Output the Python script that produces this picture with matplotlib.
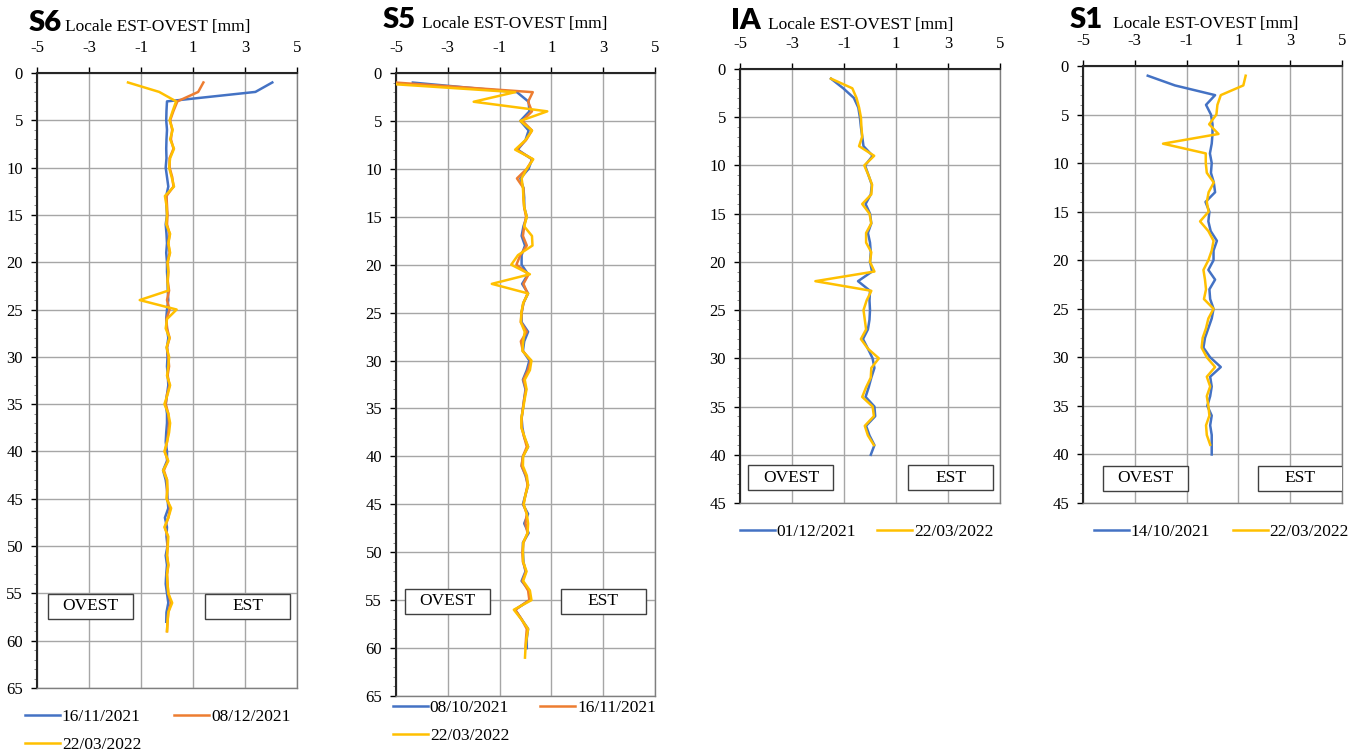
import matplotlib
matplotlib.use('Agg')
import matplotlib.pyplot as plt
from matplotlib.patches import Rectangle
from matplotlib.ticker import MultipleLocator

plt.rcParams['axes.unicode_minus'] = False

# ── Dati (spostamenti locali EST-OVEST in mm, per profondità in m) ──────
S6_DATES = ["16/11/2021", "08/12/2021", "22/03/2022"]
S6_BLUE = [4.05, 3.4, 0.0, -0.02, -0.03, 0.0, -0.02, -0.03, -0.02, -0.05,
           0.0, 0.05, -0.03, -0.02, 0.0, -0.05, -0.02, 0.0, -0.03, 0.0,
           0.0, 0.02, 0.03, 0.05, 0.0, -0.03, 0.0, 0.05, 0.0, 0.02,
           0.0, 0.03, 0.05, 0.0, -0.05, 0.0, 0.0, -0.03, -0.05, 0.0,
           0.0, -0.15, -0.05, 0.0, 0.02, 0.05, -0.08, 0.0, -0.02, 0.02,
           -0.05, 0.0, -0.03, -0.05, 0.0, 0.05, -0.02, -0.03]
S6_ORANGE = [1.4, 1.2, 0.4, 0.25, 0.12, 0.2, 0.15, 0.25, 0.1, 0.1,
             0.2, 0.25, -0.02, 0.0, 0.02, 0.0, 0.1, 0.05, 0.1, 0.03,
             0.05, 0.03, 0.08, 0.0, 0.1, -0.02, 0.0, 0.1, 0.0, 0.05,
             0.08, 0.02, 0.1, 0.0, -0.05, 0.05, 0.08, 0.05, 0.0, -0.08,
             0.03, -0.12, 0.0, 0.0, 0.0, 0.12, 0.05, -0.08, 0.03, 0.02,
             0.0, 0.05, 0.0, 0.02, 0.05, 0.15, 0.05, 0.02, 0.0]
S6_YELLOW = [-1.5, -0.3, 0.35, 0.22, 0.1, 0.22, 0.12, 0.27, 0.12, 0.08,
             0.18, 0.27, -0.08, -0.02, 0.0, -0.03, 0.12, 0.05, 0.12, 0.02,
             0.05, 0.02, 0.05, -1.05, 0.37, 0.0, -0.05, 0.1, -0.02, 0.08,
             0.05, 0.0, 0.12, 0.02, -0.1, 0.05, 0.12, 0.08, 0.0, -0.1,
             0.05, -0.15, 0.0, 0.02, -0.02, 0.16, 0.05, -0.1, 0.05, 0.03,
             0.0, 0.05, 0.0, 0.02, 0.05, 0.2, 0.05, 0.02, 0.0]

S5_DATES = ["08/10/2021", "16/11/2021", "22/03/2022"]
S5_BLUE = [-4.35, -0.33, 0.12, 0.15, -0.2, 0.12, 0.0, -0.3, 0.25, 0.12,
           -0.2, -0.08, -0.05, -0.05, 0.05, -0.08, -0.15, -0.02, -0.15, -0.15,
           0.1, -0.13, 0.1, -0.08, -0.15, -0.15, 0.1, -0.05, -0.1, 0.15,
           0.05, -0.1, 0.0, -0.05, -0.1, -0.15, -0.12, -0.05, 0.1, -0.1,
           -0.15, 0.0, 0.1, 0.0, -0.1, 0.1, -0.05, 0.12, -0.1, -0.1,
           -0.08, 0.0, -0.15, 0.15, 0.15, -0.4, -0.15, 0.1, 0.05, 0.05]
S5_ORANGE = [-5.0, 0.28, 0.1, 0.25, -0.12, 0.25, 0.02, -0.35, 0.28, 0.05,
             -0.33, -0.08, -0.08, -0.05, 0.02, -0.05, -0.1, 0.05, -0.2, -0.35,
             0.12, -0.08, 0.08, -0.08, -0.15, -0.18, 0.05, -0.18, -0.1, 0.2,
             0.1, -0.08, 0.02, -0.05, -0.1, -0.15, -0.15, -0.05, 0.05, -0.1,
             -0.15, 0.02, 0.08, 0.0, -0.08, 0.05, 0.0, 0.08, -0.08, -0.12,
             -0.1, 0.02, -0.12, 0.1, 0.15, -0.4, -0.15, 0.05, 0.02, 0.0]
S5_YELLOW = [-6.0, -0.4, -2.0, 0.84, -0.2, 0.25, 0.0, -0.4, 0.3, 0.05,
             -0.15, -0.1, -0.08, -0.05, 0.05, -0.05, 0.25, 0.27, -0.29, -0.55,
             0.17, -1.3, 0.1, -0.09, -0.16, -0.18, -0.03, -0.09, -0.12, 0.23,
             0.17, -0.03, 0.04, -0.03, -0.09, -0.16, -0.16, -0.03, 0.1, -0.09,
             -0.1, 0.05, 0.1, 0.0, -0.07, 0.05, 0.1, 0.08, -0.09, -0.1,
             -0.09, 0.04, -0.09, 0.17, 0.23, -0.45, -0.16, 0.1, 0.04, 0.0, -0.02]

IA_DATES = ["01/12/2021", "22/03/2022"]
IA_BLUE = [-1.5, -1.03, -0.62, -0.45, -0.39, -0.35, -0.3, -0.25, 0.1, -0.19,
           -0.06, 0.07, 0.03, -0.17, 0.0, 0.05, -0.08, 0.0, 0.03, 0.0,
           0.08, -0.46, 0.0, -0.02, 0.0, -0.02, -0.08, -0.27, -0.08, 0.1,
           0.17, 0.05, -0.05, -0.17, 0.17, 0.2, -0.15, -0.02, 0.17, 0.03]
IA_YELLOW = [-1.5, -0.68, -0.52, -0.42, -0.35, -0.33, -0.3, -0.42, 0.16, -0.22,
             -0.06, 0.08, 0.05, -0.3, -0.02, 0.05, -0.15, -0.15, 0.05, 0.0,
             0.17, -2.1, 0.05, -0.13, -0.25, -0.2, -0.15, -0.35, -0.08, 0.34,
             0.05, 0.03, -0.15, -0.3, 0.1, 0.15, -0.2, -0.08, 0.15]

S1_DATES = ["14/10/2021", "22/03/2022"]
S1_BLUE = [-2.5, -1.45, 0.1, -0.25, -0.06, 0.0, 0.0, -0.03, -0.1, -0.03,
           -0.06, 0.05, 0.1, -0.27, -0.12, -0.16, -0.07, 0.17, 0.04, 0.04,
           -0.16, 0.1, -0.12, -0.09, 0.04, -0.03, -0.16, -0.29, -0.35, -0.09,
           0.32, -0.09, -0.03, -0.09, -0.2, -0.03, -0.09, -0.03, -0.03, -0.03]
S1_YELLOW = [1.28, 1.19, 0.32, 0.19, 0.15, -0.13, 0.23, -1.91, -0.26, -0.26,
             -0.22, 0.05, -0.15, -0.22, -0.15, -0.48, -0.16, 0.04, -0.03, -0.16,
             -0.35, -0.29, -0.25, -0.33, 0.04, -0.16, -0.25, -0.38, -0.42, -0.22,
             0.1, -0.22, -0.09, -0.22, -0.16, -0.12, -0.25, -0.22, -0.09]

BLUE, ORANGE, YELLOW = '#4472C4', '#ED7D31', '#FFC000'
SERIF = 'Liberation Serif'
W, H = 1364, 752


def depths(values):
    return list(range(1, len(values) + 1))


def px_box(x0, y0, x1, y1):
    """Rettangolo in pixel (dall'alto) -> [left, bottom, width, height] in figura."""
    return [x0 / W, 1 - y1 / H, (x1 - x0) / W, (y1 - y0) / H]


def draw_panel(fig, rect, tag, series, ymax, title_px, box_y, ovest_x, est_x,
               leg_px, leg_cols_gap):
    ax = fig.add_axes(px_box(*rect))
    lines = []
    for vals, color, label in series:
        ln, = ax.plot(vals, depths(vals), color=color, lw=1.8, label=label,
                      solid_joinstyle='round', zorder=3)
        lines.append(ln)

    ax.set_xlim(-5, 5)
    ax.set_ylim(ymax, 0)
    ax.set_xticks([-5, -3, -1, 1, 3, 5])
    ax.yaxis.set_major_locator(MultipleLocator(5))
    ax.yaxis.set_minor_locator(MultipleLocator(1))
    ax.xaxis.tick_top()
    ax.tick_params(axis='x', which='major', top=True, bottom=False, direction='out',
                   length=4, width=1, pad=8, labelsize=12, labelfontfamily=SERIF)
    ax.tick_params(axis='y', which='major', left=True, direction='out',
                   length=4, width=1, pad=6, labelsize=12, labelfontfamily=SERIF)
    ax.tick_params(axis='y', which='minor', left=True, direction='out',
                   length=2.5, width=0.6, color='#777777')
    ax.grid(True, which='major', color='#A6A6A6', lw=1.0, zorder=0)
    ax.set_axisbelow(True)
    for s in ('top', 'left'):
        ax.spines[s].set_color('#262626')
        ax.spines[s].set_linewidth(1.5)
    for s in ('right', 'bottom'):
        ax.spines[s].set_color('#7F7F7F')
        ax.spines[s].set_linewidth(1.0)

    # box OVEST / EST, larghezza fissa (85 x 25 px)
    aw = rect[2] - rect[0]
    ah = rect[3] - rect[1]
    bw, bh = 85 / aw, 25 / ah
    for text, xc in (("OVEST", ovest_x), ("EST", est_x)):
        ax.add_patch(Rectangle((xc - bw / 2, box_y - bh / 2), bw, bh,
                               transform=ax.transAxes, fc='white', ec='#404040',
                               lw=1.0, zorder=5))
        ax.text(xc, box_y, text, transform=ax.transAxes, ha='center', va='center',
                family=SERIF, fontsize=12.5, zorder=6)

    # titolo
    tx, ty, lx = title_px
    fig.text(tx / W, 1 - ty / H, tag, family='Lato', weight='heavy', fontsize=21,
             ha='left', va='baseline')
    fig.text(lx / W, 1 - ty / H, "Locale EST-OVEST [mm]", family=SERIF,
             fontsize=12.5, ha='left', va='baseline')

    # legenda riempita per righe (matplotlib la riempie per colonne)
    if len(lines) == 3:
        lines = [lines[0], lines[2], lines[1]]
    ax.legend(handles=lines, loc='upper left',
              bbox_to_anchor=(leg_px[0] / W, 1 - leg_px[1] / H),
              bbox_transform=fig.transFigure, ncol=2, frameon=False, borderpad=0,
              borderaxespad=0, handlelength=2.0, handletextpad=0.12,
              columnspacing=leg_cols_gap, labelspacing=0.68,
              prop={'family': SERIF, 'size': 12.5})
    return ax


fig = plt.figure(figsize=(W / 100, H / 100), dpi=100, facecolor='white')

draw_panel(fig, (37, 73, 297, 688), "S6",
           [(S6_BLUE, BLUE, S6_DATES[0]), (S6_ORANGE, ORANGE, S6_DATES[1]),
            (S6_YELLOW, YELLOW, S6_DATES[2])],
           65, (29, 31, 65), 0.133, 0.204, 0.81, (25, 709), 1.9)

draw_panel(fig, (396, 73, 655, 696), "S5",
           [(S5_BLUE, BLUE, S5_DATES[0]), (S5_ORANGE, ORANGE, S5_DATES[1]),
            (S5_YELLOW, YELLOW, S5_DATES[2])],
           65, (383, 28, 422), 0.152, 0.20, 0.80, (393, 700), 1.8)

draw_panel(fig, (740, 69, 1000, 503), "IA",
           [(IA_BLUE, BLUE, IA_DATES[0]), (IA_YELLOW, YELLOW, IA_DATES[1])],
           45, (731, 29, 768), 0.058, 0.196, 0.81, (740, 524), 1.2)

draw_panel(fig, (1083, 66, 1342, 503), "S1",
           [(S1_BLUE, BLUE, S1_DATES[0]), (S1_YELLOW, YELLOW, S1_DATES[1])],
           45, (1070, 28, 1113), 0.057, 0.24, 0.838, (1094, 524), 1.3)

fig.savefig('out.png', dpi=100, facecolor='white')
plt.close(fig)
